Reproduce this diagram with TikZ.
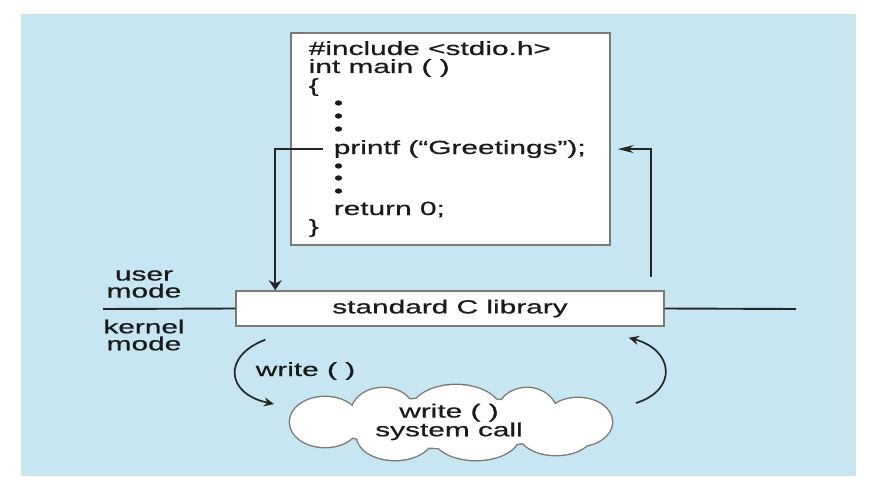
\documentclass[tikz,border=0pt]{standalone}
\usepackage{fontspec}
\setmainfont{Liberation Sans}[FakeStretch=1.57, FakeBold=0.6]
\usetikzlibrary{arrows.meta, positioning}
\definecolor{cpanel}{HTML}{C7E6F1}
\definecolor{cline}{HTML}{262626}
\definecolor{cframe}{HTML}{7A7A7A}
\definecolor{ctext}{HTML}{1A1A1A}
\tikzset{
  every picture/.style={x=1pt, y=-1pt, line width=1.6pt},
  txt/.style={font=\fontsize{19}{17}\selectfont, text=ctext, inner sep=0pt},
  codeline/.style={txt, anchor=base west},
  panelbox/.style={draw=cframe, fill=white, line width=1.5pt},
  flow/.style={draw=cline, line width=1.7pt},
  downtip/.style={-{Stealth[length=10pt, width=13pt]}},
  lefttip/.style={-{Stealth[length=16pt, width=8pt]}},
  curvetip/.style={-{Stealth[length=10pt, width=9pt]}},
}
% puffs of the system-call cloud: centre x / centre y / x radius / y radius
\def\cloudpuffs{325/422/35/25, 578/422/34/24, 383/414/32/26, 456/412/45/27, 527/414/30/26,
  395/436/38/24, 476/436/43/24, 556/433/37/22, 451/423/120/25}

\begin{document}
\begin{tikzpicture}
  % ---------- page and panel ----------
  \fill[white] (0,0) rectangle (871,495);
  \useasboundingbox (0,0) rectangle (871,495);
  \fill[cpanel] (21,14) rectangle (856,476);
  % ---------- user program ----------
  \node[panelbox, minimum width=319pt, minimum height=212pt] (code) at (450.5,139) {};
  \node[codeline] (inc) at (308,55) {\#include <stdio.h>};
  \node[codeline] (mainfn) at (308,73) {int main ( )};
  \node[codeline] (lbrace) at (308,92) {\{};
  \foreach \y in {103,116,129,166,178,191}
    \fill[ctext] (338.5,\y) ellipse [x radius=3.6pt, y radius=2.7pt];
  \node[codeline] (printf) at (333,154) {printf (``Greetings'');};
  \node[codeline] (ret) at (333,215) {return 0;};
  \node[codeline] (rbrace) at (308,233) {\}};
  % ---------- library and mode line ----------
  \node[panelbox, txt, minimum width=428pt, minimum height=35pt] (lib) at (450,308.5) {standard C library};
  \coordinate (modeL) at (103,309);
  \coordinate (modeR) at (796,309);
  \draw[flow, line width=1.9pt] (modeL) -- (lib.west);
  \draw[flow, line width=1.9pt] (lib.east) -- (modeR);
  \node[txt, align=center] (umode) at (144,284) {user\\mode};
  \node[txt, align=center] (kmode) at (144,335) {kernel\\mode};
  % ---------- call and return ----------
  \draw[flow, downtip] ([xshift=-10pt]printf.west) -| ([xshift=40pt]lib.north west);
  \coordinate (back) at ([xshift=-14pt, yshift=13pt]lib.north east);
  \draw[flow, lefttip] (back) |- ([xshift=7pt]code.east |- printf.west);
  % ---------- system call ----------
  \foreach \cx/\cy/\rx/\ry in \cloudpuffs
    \draw[cframe, line width=2.8pt] (\cx,\cy) ellipse [x radius=\rx pt, y radius=\ry pt];
  \foreach \cx/\cy/\rx/\ry in \cloudpuffs
    \fill[white] (\cx,\cy) ellipse [x radius=\rx pt, y radius=\ry pt];
  \node[txt, align=center] (sys) at (449,422) {write ( )\\system call};
  \coordinate (callin) at (274,404);
  \coordinate (callout) at (636,403);
  \draw[flow, curvetip] ([xshift=30pt, yshift=-13pt]lib.south west) .. controls (222,356) and (226,394) .. (callin);
  \draw[flow, curvetip] (callout) .. controls (678,390) and (674,350) .. ([xshift=-36pt, yshift=-11pt]lib.south east);
  \node[txt, anchor=base west] (wlabel) at (255,376) {write ( )};
\end{tikzpicture}
\end{document}
